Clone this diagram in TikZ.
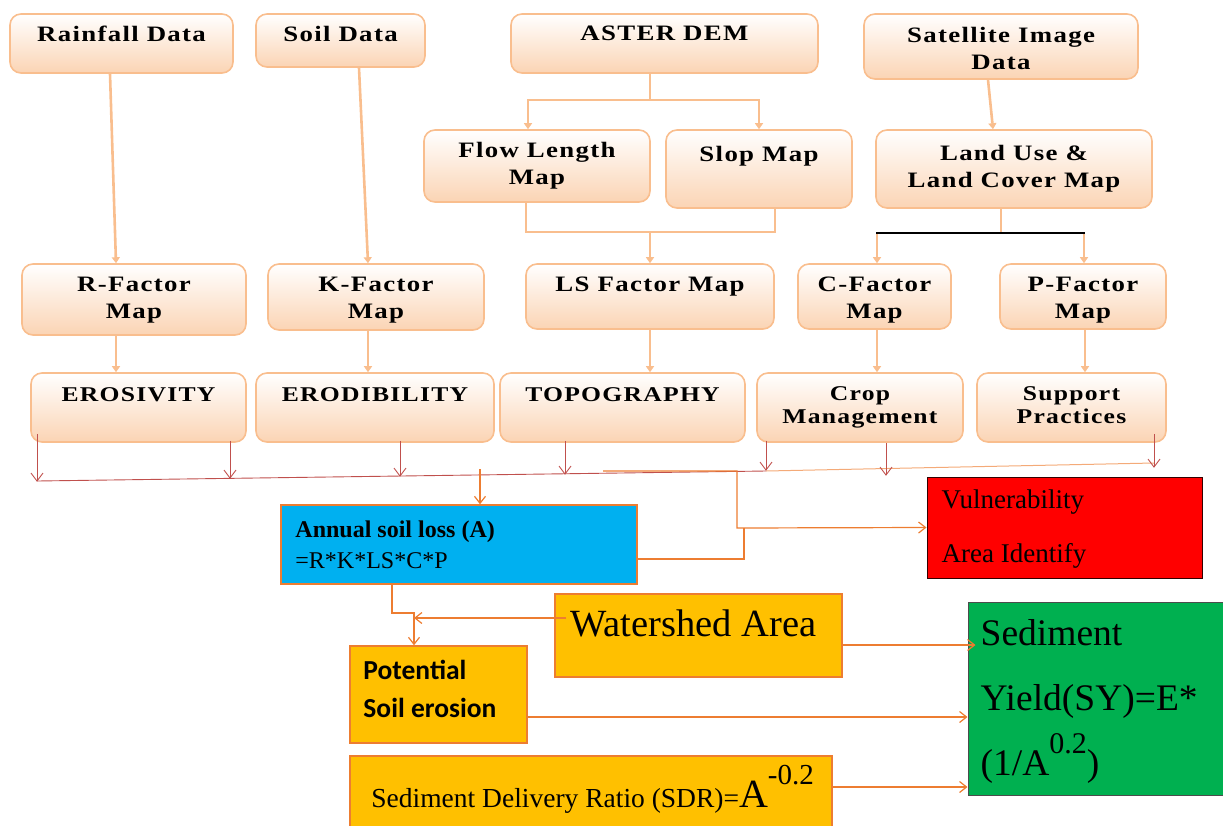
\documentclass[tikz,border=0pt]{standalone}
\usepackage{fontspec}
\setmainfont{Liberation Serif}
\newfontfamily\spaced{Liberation Serif}[FakeStretch=1.22, LetterSpace=6]
\newfontfamily\calib{Carlito}
\usetikzlibrary{arrows.meta,calc}
\definecolor{peachline}{RGB}{249,190,142}
\definecolor{peachfill}{RGB}{251,212,180}
\definecolor{redline}{RGB}{192,80,77}
\definecolor{orangeline}{RGB}{237,125,49}
\definecolor{lightorange}{RGB}{244,170,120}
\definecolor{skyblue}{RGB}{0,176,240}
\definecolor{gold}{RGB}{255,192,0}
\definecolor{leafgreen}{RGB}{0,176,80}
\begin{document}
\begin{tikzpicture}[x=1pt,y=-1pt,
  pbox/.style={draw=peachline, line width=1.6pt, rounded corners=11pt, top color=white, bottom color=peachfill, inner sep=0pt},
  ptxt/.style={anchor=north, align=center, inner sep=0pt, yshift=-13pt, font=\spaced\bfseries\fontsize{22}{27}\selectfont},
  ptxtb/.style={ptxt, font=\spaced\bfseries\fontsize{21}{23}\selectfont},
  pline/.style={draw=peachline, line width=2.6pt},
  parr/.style={pline, -{Triangle[length=6pt,width=8pt]}},
  rarr/.style={draw=redline, line width=0.9pt, -{Straight Barb[length=8pt,width=12pt]}},
  oline/.style={draw=orangeline, line width=1.2pt},
  oarr/.style={oline, -{Straight Barb[length=7pt,width=11pt]}},
  fbox/.style={draw=orangeline, line width=1.5pt, inner sep=0pt},
  ltxt/.style={inner sep=0pt, align=left, anchor=north west}]
\useasboundingbox (0,0) rectangle (1223,825);

% Data sources
\node[pbox, minimum width=223, minimum height=59, label={[ptxt]north:Rainfall Data}] (rain) at (121.5,43.5) {};
\node[pbox, minimum width=169, minimum height=53, label={[ptxt]north:Soil Data}] (soil) at (340.5,40.5) {};
\node[pbox, minimum width=307, minimum height=59, label={[ptxt]north:ASTER DEM}] (aster) at (664.5,43.5) {};
\node[pbox, minimum width=274, minimum height=65, label={[ptxt,yshift=-1pt]north:{Satellite Image\\Data}}] (sat) at (1001,46.5) {};

% Derived maps
\node[pbox, minimum width=226, minimum height=72, label={[ptxt]north:{Flow Length\\Map}}] (flow) at (537,166) {};
\node[pbox, minimum width=186, minimum height=78, label={[ptxt,yshift=-4pt]north:Slop Map}] (slop) at (759,169) {};
\node[pbox, minimum width=276, minimum height=78, label={[ptxt,yshift=-3pt]north:{Land Use \&\\Land Cover Map}}] (lulc) at (1014,169) {};

% Factor maps
\node[pbox, minimum width=224, minimum height=71, label={[ptxt,yshift=-1pt]north:{R-Factor\\Map}}] (rfac) at (134,299.5) {};
\node[pbox, minimum width=216, minimum height=66, label={[ptxt,yshift=-1pt]north:{K-Factor\\Map}}] (kfac) at (376,297) {};
\node[pbox, minimum width=248, minimum height=65, label={[ptxt,yshift=-1pt]north:LS Factor Map}] (ls) at (650,296.5) {};
\node[pbox, minimum width=153, minimum height=65, label={[ptxt,yshift=-1pt]north:{C-Factor\\Map}}] (cfac) at (874.5,296.5) {};
\node[pbox, minimum width=166, minimum height=65, label={[ptxt,yshift=-1pt]north:{P-Factor\\Map}}] (pfac) at (1083,296.5) {};

% USLE parameters
\node[pbox, minimum width=215, minimum height=69, label={[ptxtb,yshift=-2pt]north:EROSIVITY}] (eros) at (138.5,407.5) {};
\node[pbox, minimum width=238, minimum height=69, label={[ptxtb,yshift=-2pt]north:ERODIBILITY}] (erod) at (375,407.5) {};
\node[pbox, minimum width=245, minimum height=69, label={[ptxtb,yshift=-2pt]north:TOPOGRAPHY}] (topo) at (622.5,407.5) {};
\node[pbox, minimum width=206, minimum height=69, label={[ptxtb,yshift=-1pt]north:{Crop\\Management}}] (crop) at (860,407.5) {};
\node[pbox, minimum width=189, minimum height=69, label={[ptxtb,yshift=-1pt]north:{Support\\Practices}}] (supp) at (1071.5,407.5) {};

% peach connectors
\draw[parr] ([xshift=-11.5pt]rain.south) -- ([xshift=-18pt]rfac.north);
\draw[parr] ([xshift=18.5pt]soil.south) -- ([xshift=-8pt]kfac.north);
\coordinate (dem) at (650,100);
\draw[pline] ([xshift=-14.5pt]aster.south) -- (dem);
\draw[parr] (dem) -| ([xshift=-9pt]flow.north);
\draw[parr] (dem) -| (slop.north);
\coordinate (lsj) at (650,232);
\draw[pline] ([xshift=-11pt]flow.south) |- (lsj) -| ([xshift=16pt]slop.south);
\draw[parr] (lsj) -- (ls.north);
\draw[parr] ([xshift=-13pt]sat.south) -- ([xshift=-21pt]lulc.north);
\coordinate (luj) at (1001,233);
\draw[pline] ([xshift=-13pt]lulc.south) -- (luj);
\draw[parr] (877,233) -- ([xshift=2.5pt]cfac.north);
\draw[parr] (1084,233) -- ([xshift=1pt]pfac.north);
\draw[black, line width=2.6pt] (876,233) -- (1085,233);
\draw[parr] ([xshift=-18pt]rfac.south) -- ([xshift=-22.5pt]eros.north);
\draw[parr] ([xshift=-8pt]kfac.south) -- ([xshift=-7pt]erod.north);
\draw[parr] (ls.south) -- ([xshift=27.5pt]topo.north);
\draw[parr] ([xshift=2.5pt]cfac.south) -- ([xshift=17pt]crop.north);
\draw[parr] ([xshift=2pt]pfac.south) -- ([xshift=13.5pt]supp.north);

% collecting line
\draw[redline, line width=0.9pt] (37,481) -- (766,471);
\draw[lightorange, line width=1pt] (766,471) -- (1154,463);
\draw[rarr] ([xshift=-101.5pt,yshift=9pt]eros.south) -- ++(0,48);
\draw[rarr] ([xshift=91.5pt,yshift=2pt]eros.south) -- ++(0,38);
\draw[rarr] ([xshift=25pt,yshift=2pt]erod.south) -- ++(0,36);
\draw[rarr] ([xshift=-57.5pt,yshift=2pt]topo.south) -- ++(0,34);
\draw[rarr] ([xshift=-94pt,yshift=2pt]crop.south) -- ++(0,30);
\draw[rarr] ([xshift=26pt]crop.south) -- ++(0,33);
\draw[rarr] ([xshift=82.5pt,yshift=9pt]supp.south) -- ++(0,34);

% Results
\node[fbox, fill=skyblue, minimum width=356, minimum height=79,
  label={[ltxt, xshift=15pt, yshift=-16pt, font=\fontsize{24}{31}\selectfont]north west:{\textbf{Annual soil loss (A)}\\=R*K*LS*C*P}}] (annual) at (459,544.5) {};
\node[draw=black!80!red, line width=1pt, fill=red, inner sep=0pt, minimum width=275, minimum height=101,
  label={[ltxt, xshift=15pt, yshift=-13pt, font=\fontsize{27}{54}\selectfont]north west:{Vulnerability\\Area Identify}}] (vuln) at (1064.5,527.5) {};
\node[fbox, fill=gold, minimum width=287, minimum height=83,
  label={[anchor=base west, inner sep=0pt, xshift=16pt, yshift=-43pt, font=\fontsize{38.5}{40}\selectfont]north west:Watershed Area}] (wat) at (698.5,635.5) {};
\node[fbox, fill=gold, minimum width=177, minimum height=97,
  label={[ltxt, xshift=14pt, yshift=-15pt, font=\calib\bfseries\fontsize{27.5}{38}\selectfont]north west:{Potential\\Soil erosion}}] (pot) at (438.5,694.5) {};
\node[fbox, fill=gold, minimum width=482, minimum height=84,
  label={[anchor=base west, inner sep=0pt, xshift=22pt, yshift=-52pt, font=\fontsize{27.5}{30}\selectfont]north west:{Sediment Delivery Ratio (SDR)={\fontsize{40}{40}\selectfont A}\raisebox{23pt}{\fontsize{29}{29}\selectfont -0.2}}}] (sdr) at (591,798) {};
\node[draw=black!70, line width=1pt, fill=leafgreen, inner sep=0pt, minimum width=258, minimum height=193,
  label={[ltxt, xshift=13pt, yshift=-18pt, font=\fontsize{37.5}{65}\selectfont]north west:{Sediment\\Yield(SY)=E*\\(1/A\raisebox{22pt}{\fontsize{30}{30}\selectfont 0.2})}}] (sy) at (1097,698.5) {};

% orange connectors
\draw[oarr] ([xshift=21pt,yshift=35pt]annual.north) -- ([xshift=21pt]annual.north);
\draw[oarr] (603,471) -- (737,471) -- (737,528) -- (vuln.west);
\draw[oline] ([yshift=-14.5pt]annual.east) -| (744,528);
\coordinate (jn) at (414,613);
\draw[oarr] ([xshift=-67pt]annual.south) |- (jn) -- (jn |- pot.north);
\draw[oarr] ([xshift=12pt,yshift=17.5pt]wat.west) -- ([yshift=17.5pt]wat.west -| jn);
\draw[oarr] ([yshift=-9.5pt]wat.east) -- ([yshift=-9.5pt,xshift=8pt]wat.east -| sy.west);
\draw[oarr] ([yshift=-22.5pt]pot.east) -- ([yshift=-22.5pt]pot.east -| sy.west);
\draw[oarr] ([yshift=11pt]sdr.east) -- ([yshift=11pt]sdr.east -| sy.west);
\end{tikzpicture}
\end{document}
